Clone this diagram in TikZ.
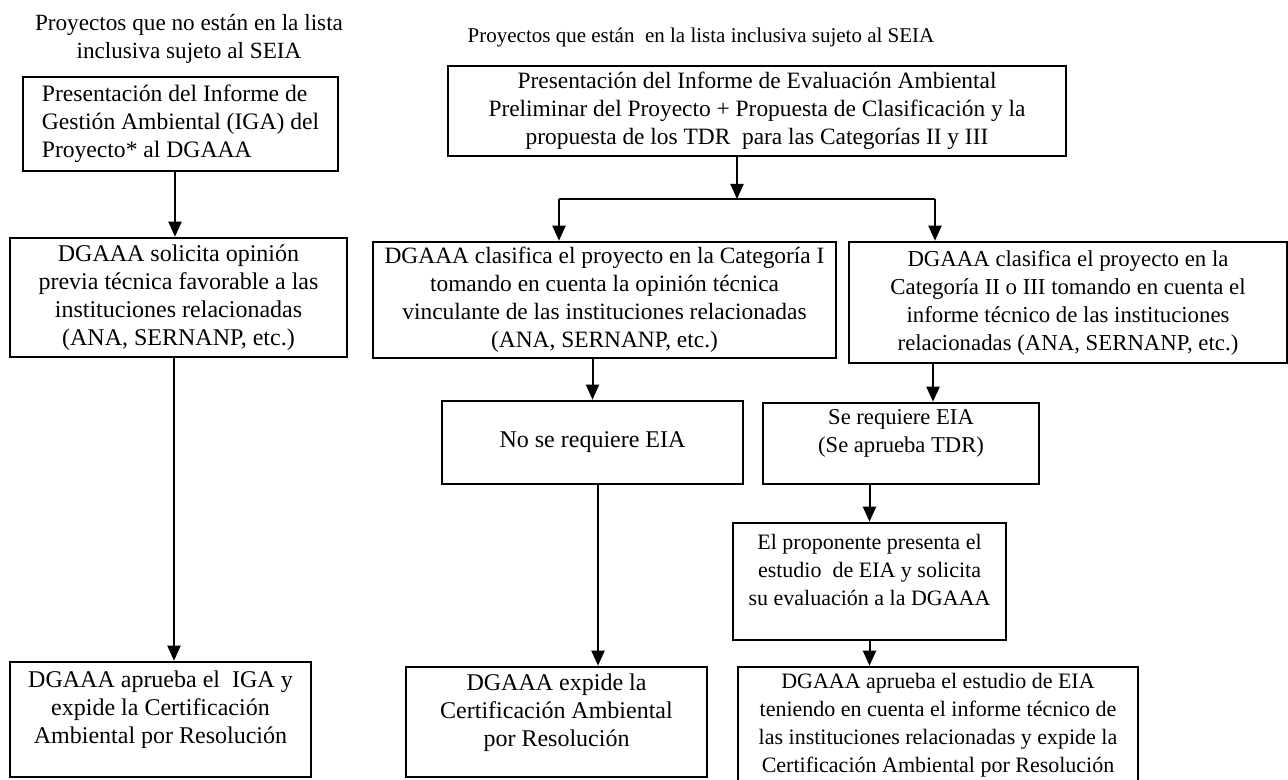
\documentclass[tikz,border=0pt]{standalone}
\usepackage{fontspec}
\setmainfont{Liberation Serif}
\usetikzlibrary{arrows.meta}

% renglon vacio al final de una caja (texto arriba, como en el original)
\newcommand{\renglonvacio}{\\[-2pt]\mbox{}}

\begin{document}
\begin{tikzpicture}[x=0.5pt, y=-0.5pt,
    >={Triangle[length=7.5pt, width=6.5pt]},
    tam/.style={font=\fontsize{#1}{14}\selectfont},
    texto/.style={align=center, inner sep=0pt, tam=11},
    caja/.style={texto, draw, line width=1.3pt, inner sep=2pt},
    flecha/.style={->, line width=1pt},
    linea/.style={line width=1pt}]
    \useasboundingbox (0,0) rectangle (1288,780);

    % 1. Titulos de las dos columnas
    \node[texto, tam=11.6] (tituloNo) at (189,39) {Proyectos que no están en la lista\\inclusiva sujeto al SEIA};
    \node[texto, tam=10.5] (tituloSi) at (701,37) {Proyectos que están\ \ en la lista inclusiva sujeto al SEIA};

    % 2. Columna izquierda: proyectos fuera de la lista
    \node[caja, tam=11.8, align=left, minimum width=157.5pt, minimum height=47pt] (iga) at (180.5,124)
        {Presentación del Informe de\\Gestión Ambiental (IGA) del\\Proyecto* al DGAAA};
    \node[caja, tam=12, minimum width=168.5pt, minimum height=59.5pt] (opinion) at (178.5,297.5)
        {DGAAA solicita opinión\\previa técnica favorable a las\\instituciones relacionadas\\(ANA, SERNANP, etc.)};
    \node[caja, tam=12, minimum width=150.5pt, minimum height=57.5pt] (apruebaIga) at (160.5,719.5)
        {DGAAA aprueba el\ \ IGA y\\expide la Certificación\\Ambiental por Resolución\renglonvacio};

    % 3. Columna derecha: proyectos en la lista
    \node[caja, tam=11.7, minimum width=309pt, minimum height=45pt] (informe) at (757,111)
        {Presentación del Informe de Evaluación Ambiental\\Preliminar del Proyecto + Propuesta de Clasificación y la\\propuesta de los TDR\ \ para las Categorías II y III};
    \node[caja, tam=11.7, minimum width=231.5pt, minimum height=58pt] (catI) at (604.5,300)
        {DGAAA clasifica el proyecto en la Categoría I\\tomando en cuenta la opinión técnica\\vinculante de las instituciones relacionadas\\(ANA, SERNANP, etc.)};
    \node[caja, tam=11.4, minimum width=219pt, minimum height=60.5pt] (catII) at (1068,302.5)
        {DGAAA clasifica el proyecto en la\\Categoría II o III tomando en cuenta el\\informe técnico de las instituciones\\relacionadas (ANA, SERNANP, etc.)};
    \node[caja, tam=12, minimum width=150.5pt, minimum height=41.5pt] (noEia) at (592.5,442.5)
        {No se requiere EIA};
    \node[caja, tam=12, minimum width=150.5pt, minimum height=55pt] (expide) at (556.5,722)
        {DGAAA expide la\\Certificación Ambiental\\por Resolución\renglonvacio};
    \node[caja, tam=11.3, minimum width=138pt, minimum height=40.5pt] (siEia) at (901,443.5)
        {Se requiere EIA\\(Se aprueba TDR)\renglonvacio};
    \node[caja, minimum width=136.5pt, minimum height=58.5pt] (proponente) at (869.5,581.5)
        {El proponente presenta el\\estudio\ \ de EIA y solicita\\su evaluación a la DGAAA\renglonvacio};
    \node[caja, minimum width=200pt, minimum height=58.5pt] (apruebaEia) at (938,725.5)
        {DGAAA aprueba el estudio de EIA\\teniendo en cuenta el informe técnico de\\las instituciones relacionadas y expide la\\Certificación Ambiental por Resolución};

    % 4. Flechas de la columna izquierda
    \draw[flecha] ([xshift=-2.75pt]iga.south) -- ([xshift=-2.75pt]iga.south |- opinion.north);
    \draw[flecha] ([xshift=-2.25pt]opinion.south) -- ([xshift=-2.25pt]opinion.south |- apruebaIga.north);

    % 5. Bifurcacion hacia las categorias
    \coordinate (ramaI) at (559,199);
    \coordinate (ramaD) at (935,199);
    \draw[flecha] ([xshift=-10pt]informe.south) -- ([xshift=-10pt]informe.south |- ramaI);
    \draw[linea] (ramaI) -- (ramaD);
    \draw[flecha] (ramaI) -- (ramaI |- catI.north);
    \draw[flecha] (ramaD) -- (ramaD |- catII.north);

    % 6. Flechas de la columna derecha
    \draw[flecha] (noEia.north |- catI.south) -- (noEia.north);
    \draw[flecha] ([xshift=2.75pt]noEia.south) -- ([xshift=2.75pt]noEia.south |- expide.north);
    \draw[flecha] ([xshift=16pt]siEia.north |- catII.south) -- ([xshift=16pt]siEia.north);
    \draw[flecha] (proponente.north |- siEia.south) -- (proponente.north);
    \draw[flecha] (proponente.south) -- (proponente.south |- apruebaEia.north);

\end{tikzpicture}
\end{document}
